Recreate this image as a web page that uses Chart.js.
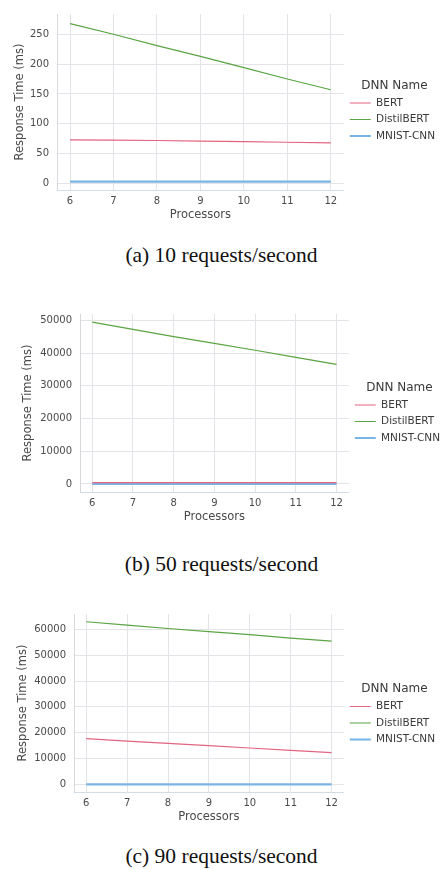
<!DOCTYPE html>
<html>
<head>
<meta charset="utf-8">
<script src="https://cdn.jsdelivr.net/npm/chart.js@4/dist/chart.umd.min.js"></script>
<style>
  body { margin: 0; width: 446px; height: 869px; overflow: hidden; background: #fff; position: relative; }
  .box { position: absolute; left: 0; }
  .cap { position: absolute; left: 0; width: 443px; text-align: center;
         font-family: "Liberation Serif", "Times New Roman", serif; font-size: 21.5px; line-height: 21px; color: #111; }
</style>
</head>
<body>
<div class="box" style="top:0;width:445px;height:222px"><canvas id="rt10"></canvas></div>
<div class="cap" style="top:245px">(a) 10 requests/second</div>
<div class="box" style="top:300px;width:450px;height:224px"><canvas id="rt50"></canvas></div>
<div class="cap" style="top:554px">(b) 50 requests/second</div>
<div class="box" style="top:600px;width:445px;height:224px"><canvas id="rt90"></canvas></div>
<div class="cap" style="top:846px">(c) 90 requests/second</div>

<script>
// x axis
var processors = [6, 7, 8, 9, 10, 11, 12];

// 10 requests/second
var bert10   = [73, 72.5, 72, 71, 70, 69, 68];
var distil10 = [268, 250, 231, 213, 194, 175, 157];
var mnist10  = [3, 3, 3, 3, 3, 3, 3];
var yTicks10 = [0, 50, 100, 150, 200, 250];

// 50 requests/second
var bert50   = [400, 400, 390, 390, 380, 380, 370];
var distil50 = [49500, 47300, 45100, 43000, 40900, 38700, 36600];
var mnist50  = [10, 10, 10, 10, 10, 10, 10];
var yTicks50 = [0, 10000, 20000, 30000, 40000, 50000];

// 90 requests/second
var bert90   = [17700, 16800, 15900, 15000, 14100, 13200, 12300];
var distil90 = [62900, 61600, 60300, 59100, 57900, 56600, 55400];
var mnist90  = [50, 50, 50, 50, 50, 50, 50];
var yTicks90 = [0, 10000, 20000, 30000, 40000, 50000, 60000];

var gridColor = '#e3e3e8';
var textColor = '#4a4a4a';

Chart.defaults.font.family = 'DejaVu Sans';

function toPoints(values) {
  return processors.map(function (p, i) { return { x: p, y: values[i] }; });
}

function printChart(canvasId, bert, distil, mnist, yTicks, yMin, yMax, leftWidth, titlePad, topPad) {
  var ctx = document.getElementById(canvasId);
  return new Chart(ctx, {
    type: 'line',
    data: {
      datasets: [
        { label: 'BERT', data: toPoints(bert), borderColor: '#e2647f', backgroundColor: '#e2647f', borderWidth: 1.2 },
        { label: 'DistilBERT', data: toPoints(distil), borderColor: '#5aa443', backgroundColor: '#5aa443', borderWidth: 1.2 },
        { label: 'MNIST-CNN', data: toPoints(mnist), borderColor: '#78b4e4', backgroundColor: '#78b4e4', borderWidth: 2.2 }
      ]
    },
    options: {
      responsive: true,
      maintainAspectRatio: false,
      animation: false,
      devicePixelRatio: 1,
      layout: { padding: { top: topPad, left: 0, right: 0, bottom: 0 } },
      elements: { point: { radius: 0 }, line: { tension: 0 } },
      plugins: {
        tooltip: { enabled: false },
        legend: {
          position: 'right',
          align: 'center',
          title: { display: true, text: 'DNN Name', color: '#3a3a3a', font: { size: 12, lineHeight: 1 }, padding: 0 },
          labels: {
            color: '#3a3a3a', font: { size: 10.5 }, usePointStyle: true, pointStyle: 'line',
            pointStyleWidth: 21, padding: 6
          }
        }
      },
      scales: {
        x: {
          type: 'linear', min: 5.7, max: 12.3,
          afterBuildTicks: function (s) { s.ticks = processors.map(function (v) { return { value: v }; }); },
          afterFit: function (s) { s.height = 32; },
          grid: { color: gridColor, drawTicks: false },
          border: { color: '#d3dde8' },
          ticks: { color: textColor, font: { size: 10 }, padding: 5, callback: function (v) { return String(v); } },
          title: { display: true, text: 'Processors', color: textColor, font: { size: 11.5 }, padding: 0 }
        },
        y: {
          type: 'linear', min: yMin, max: yMax,
          afterBuildTicks: function (s) { s.ticks = yTicks.map(function (v) { return { value: v }; }); },
          afterFit: function (s) { s.width = leftWidth; },
          grid: { color: gridColor, drawTicks: false },
          border: { color: '#d8d8dc' },
          ticks: { color: textColor, font: { size: 10 }, padding: 8, callback: function (v) { return String(v); } },
          title: { display: true, text: 'Response Time (ms)', color: textColor, font: { size: 11.5 }, padding: { top: titlePad, bottom: 0 } }
        }
      }
    }
  });
}

function init() {
  printChart('rt10', bert10, distil10, mnist10, yTicks10, -11, 284, 57, 13, 5);
  printChart('rt50', bert50, distil50, mnist50, yTicks50, -2470, 52000, 80, 21, 7);
  printChart('rt90', bert90, distil90, mnist90, yTicks90, -2900, 65900, 74, 16, 10);
}

init();
</script>
</body>
</html>
